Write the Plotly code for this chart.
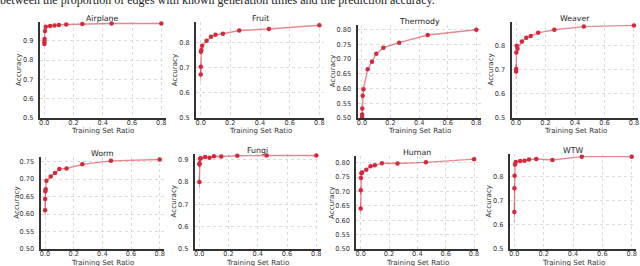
import plotly.graph_objects as go

# ---------------- data ----------------
ratios = [0.0005, 0.001, 0.002, 0.005, 0.01, 0.04, 0.07, 0.1, 0.15, 0.26, 0.46, 0.8]
names = ["Airplane", "Fruit", "Thermody", "Weaver", "Worm", "Fungi", "Human", "WTW"]

acc_airplane = [0.883, 0.895, 0.909, 0.950, 0.972, 0.976, 0.979, 0.982, 0.984, 0.986, 0.989, 0.989]
acc_fruit = [0.673, 0.704, 0.764, 0.771, 0.787, 0.807, 0.823, 0.831, 0.835, 0.848, 0.854, 0.869]
acc_thermody = [0.503, 0.512, 0.532, 0.576, 0.598, 0.666, 0.691, 0.718, 0.739, 0.756, 0.782, 0.800]
acc_weaver = [0.693, 0.703, 0.772, 0.800, 0.787, 0.817, 0.833, 0.840, 0.853, 0.866, 0.879, 0.884]
acc_worm = [0.611, 0.643, 0.665, 0.671, 0.695, 0.707, 0.717, 0.729, 0.730, 0.742, 0.752, 0.756]
acc_fungi = [0.801, 0.879, 0.884, 0.905, 0.907, 0.912, 0.909, 0.916, 0.915, 0.918, 0.919, 0.919]
acc_human = [0.641, 0.704, 0.747, 0.763, 0.766, 0.775, 0.787, 0.791, 0.798, 0.797, 0.801, 0.812]
acc_wtw = [0.653, 0.752, 0.804, 0.850, 0.861, 0.865, 0.866, 0.871, 0.873, 0.869, 0.883, 0.883]

# std of first points (error bars)
err_airplane = [0.006, 0.004, 0, 0, 0, 0, 0, 0, 0, 0, 0, 0]
err_fruit = [0.028, 0.02, 0, 0, 0, 0, 0, 0, 0, 0, 0, 0]
err_thermody = [0.01, 0.008, 0, 0, 0, 0, 0, 0, 0, 0, 0, 0]
err_weaver = [0.031, 0.02, 0, 0, 0, 0, 0, 0, 0, 0, 0, 0]
err_worm = [0.019, 0.015, 0, 0, 0, 0, 0, 0, 0, 0, 0, 0]
err_fungi = [0.029, 0.015, 0, 0, 0, 0, 0, 0, 0, 0, 0, 0]
err_human = [0.023, 0.015, 0, 0, 0, 0, 0, 0, 0, 0, 0, 0]
err_wtw = [0.041, 0.02, 0, 0, 0, 0, 0, 0, 0, 0, 0, 0]

series = [acc_airplane, acc_fruit, acc_thermody, acc_weaver, acc_worm, acc_fungi, acc_human, acc_wtw]
errors = [err_airplane, err_fruit, err_thermody, err_weaver, err_worm, err_fungi, err_human, err_wtw]

x_ticks = [0.0, 0.2, 0.4, 0.6, 0.8]
y_ticks_01 = [0.5, 0.6, 0.7, 0.8, 0.9]
y_ticks_005 = [0.50, 0.55, 0.60, 0.65, 0.70, 0.75, 0.80]

# ---------------- layout geometry (pixels) ----------------
W, H = 640, 266
# (left px, right px, top px, bottom px, y top value, y step)
panels = [
    (39.9, 165.7, 22, 118, 0.997, 0.1),
    (196.2, 323.8, 22, 118, 0.882, 0.1),
    (357.7, 480.6, 25, 118, 0.816, 0.05),
    (511.6, 638.4, 22, 118, 0.898, 0.1),
    (40.7, 164.0, 157, 249, 0.763, 0.05),
    (194.9, 320.7, 154, 249, 0.926, 0.1),
    (356.4, 478.3, 156, 249, 0.823, 0.05),
    (509.9, 636.1, 154, 249, 0.894, 0.1),
]

RED = "#d62839"
TICKFONT = dict(family="DejaVu Sans", size=6.6, color="#333333")
LABELFONT = dict(family="DejaVu Sans", size=7.1, color="#333333")
fig = go.Figure()
annotations = []

for i, (name, ys, es, geo) in enumerate(zip(names, series, errors, panels)):
    left, right, top, bottom, ytop, step = geo
    ax = "" if i == 0 else str(i + 1)
    fig.add_trace(go.Scatter(
        x=ratios, y=ys, mode="lines+markers",
        xaxis="x" + ax, yaxis="y" + ax,
        line=dict(color="rgba(214,40,57,0.55)", width=1.4),
        marker=dict(color=RED, size=4.5, symbol="circle"),
        error_y=dict(type="data", array=es, visible=True,
                     color="rgba(214,40,57,0.35)", thickness=1, width=0),
        showlegend=False, cliponaxis=False, hoverinfo="skip",
    ))
    yt = y_ticks_01 if step == 0.1 else y_ticks_005
    fmt = ".1f" if step == 0.1 else ".2f"
    fig.layout["xaxis" + ax] = dict(
        domain=[left / W, right / W], anchor="y" + ax, automargin=False,
        range=[-0.03, 0.83], tickvals=x_ticks, tickformat=".1f",
        showgrid=True, gridcolor="#dcdcdc", griddash="dot", gridwidth=1,
        showline=True, linecolor="#333333", linewidth=1.5,
        ticks="", tickfont=TICKFONT, zeroline=False, ticklabelstandoff=-3,
    )
    fig.layout["yaxis" + ax] = dict(
        domain=[1 - bottom / H, 1 - top / H], anchor="x" + ax, automargin=False,
        range=[0.5, ytop], tickvals=yt, tickformat=fmt,
        showgrid=True, gridcolor="#dcdcdc", griddash="dot", gridwidth=1,
        showline=True, linecolor="#333333", linewidth=2.2,
        ticks="", tickfont=TICKFONT, zeroline=False, ticklabelstandoff=3,
    )
    cx = (left + right) / 2 / W
    annotations.append(dict(text=name, x=cx, y=1 - (top - 4) / H, xref="paper", yref="paper",
                            xanchor="center", yanchor="middle", showarrow=False,
                            font=dict(family="DejaVu Sans", size=7.8, color="#222222")))
    annotations.append(dict(text="Training Set Ratio", x=cx, y=1 - (bottom + 13) / H,
                            xref="paper", yref="paper", xanchor="center", yanchor="middle",
                            showarrow=False, font=LABELFONT))
    off = 21 if step == 0.1 else 25
    annotations.append(dict(text="Accuracy", x=(left - off) / W, y=1 - (top + bottom) / 2 / H,
                            xref="paper", yref="paper", xanchor="center", yanchor="middle",
                            textangle=-90, showarrow=False, font=LABELFONT))

# clipped caption text at the very top
annotations.append(dict(
    text="between the proportion of edges with known generation times and the prediction accuracy.",
    x=-2 / W, y=1 - 9 / H, xref="paper", yref="paper", xanchor="left", yanchor="bottom",
    showarrow=False, font=dict(family="Liberation Serif", size=12, color="#222222")))

fig.update_layout(
    width=W, height=H, margin=dict(l=0, r=0, t=0, b=0),
    paper_bgcolor="white", plot_bgcolor="white", hovermode=False,
    annotations=annotations,
)

fig.write_html("out.html", config={"displayModeBar": False},
               post_script="document.body.style.margin='0';document.body.style.overflow='hidden';")
